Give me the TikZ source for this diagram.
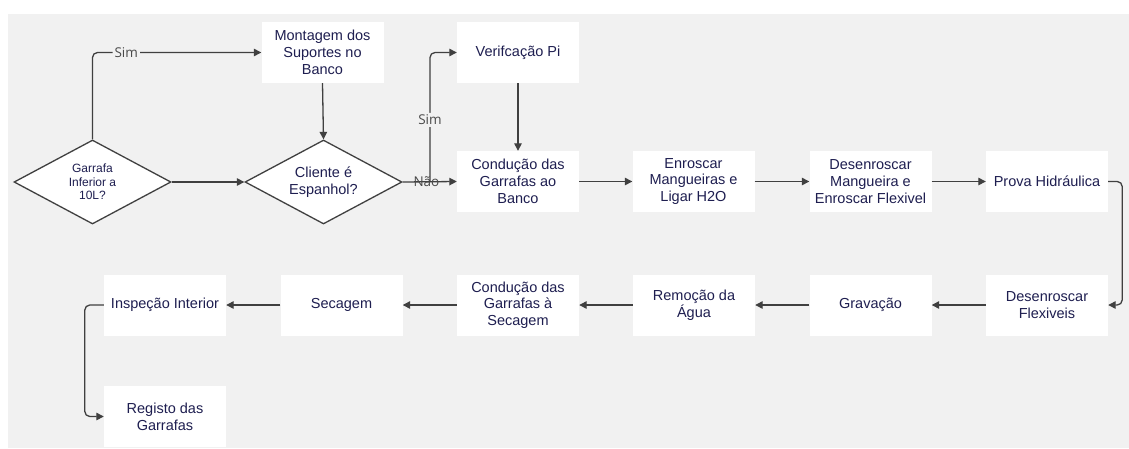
\documentclass[tikz,border=0pt]{standalone}
\usepackage{fontspec}
\setmainfont{Liberation Sans}
\newfontfamily\tagfont{Open Sans}
\usetikzlibrary{shapes.geometric,arrows.meta}
\definecolor{canvas}{HTML}{F1F1F1}
\definecolor{ink}{HTML}{1E1E50}
\definecolor{wire}{HTML}{404040}
\definecolor{tagc}{HTML}{4A4A4A}

\begin{document}
\begin{tikzpicture}[x=1pt,y=-1pt,
  stepbox/.style={fill=white, minimum width=122pt, minimum height=61pt,
    inner sep=0pt, align=center, text=ink,
    font=\fontsize{14.5}{16.7}\selectfont},
  decision/.style={diamond, fill=white, draw=wire, line width=1.3pt,
    minimum width=157pt, minimum height=84pt, inner sep=0pt},
  dtext/.style={align=center, text=ink, inner sep=0pt,
    font=\fontsize{12}{13.5}\selectfont},
  arr/.style={draw=wire, line width=1.3pt, rounded corners=5pt,
    -{Triangle[length=7.5pt,width=7.5pt]}},
  tag/.style={text=tagc, fill=canvas, inner sep=2pt,
    font=\tagfont\fontsize{13.5}{15}\selectfont},
  bare/.style={tag, fill=none},
]
% canvas
\fill[white] (0,0) rectangle (1129,448);
\fill[canvas] (8,14) rectangle (1129,448);

% decisions
\node[decision, label={[dtext]center:{Garrafa\\Inferior a\\10L?}}] (garr) at (92.5,182) {};
\node[decision, label={[dtext, font=\fontsize{14.5}{16.7}\selectfont]center:{Cliente é\\Espanhol?}}] (cli) at (323.5,182) {};

% top row
\node[stepbox] (mont)  at (322.5,52.5) {Montagem dos\\Suportes no\\Banco};
\node[stepbox] (veri)  at (518,52.5)   {Verifcação Pi};
\node[stepbox] (cond1) at (518,181.5)  {Condução das\\Garrafas ao\\Banco};
\node[stepbox] (enr)   at (693.5,181.5) {Enroscar\\Mangueiras e\\Ligar H2O};
\node[stepbox] (desm)  at (870.5,181.5) {Desenroscar\\Mangueira e\\Enroscar Flexivel};
\node[stepbox] (prova) at (1047,181.5) {Prova Hidráulica};

% bottom row
\node[stepbox] (flex)  at (1047,305)  {Desenroscar\\Flexiveis};
\node[stepbox] (grav)  at (870.5,305) {Gravação};
\node[stepbox] (remo)  at (694,305)   {Remoção da\\Água};
\node[stepbox] (cond2) at (518,305)   {Condução das\\Garrafas à\\Secagem};
\node[stepbox] (sec)   at (341.5,305) {Secagem};
\node[stepbox] (insp)  at (165,305)   {Inspeção Interior};
\node[stepbox] (reg)   at (165,416.5) {Registo das\\Garrafas};

% fork point on the "Não" line
\coordinate (fork) at (430,182);

% connectors
\draw[arr] (garr.north) |- node[tag, pos=0.6] {Sim} (mont.west);
\draw[arr] (garr.east) -- (cli.west);
\draw[arr] (mont.south) -- (cli.north);
\draw[arr] (cli.east) -- node[bare, pos=0.44] {Não} (cond1.west);
\draw[arr] (fork) |- node[tag, pos=0.24] {Sim} (veri.west);
\draw[arr] (veri.south) -- (cond1.north);
\draw[arr] (cond1) -- (enr);
\draw[arr] (enr) -- (desm);
\draw[arr] (desm) -- (prova);
\draw[arr] (prova.east) -- ++(14,0) |- (flex.east);
\draw[arr] (flex) -- (grav);
\draw[arr] (grav) -- (remo);
\draw[arr] (remo) -- (cond2);
\draw[arr] (cond2) -- (sec);
\draw[arr] (sec) -- (insp);
\draw[arr] (insp.west) -- ++(-19,0) |- (reg.west);
\end{tikzpicture}
\end{document}
